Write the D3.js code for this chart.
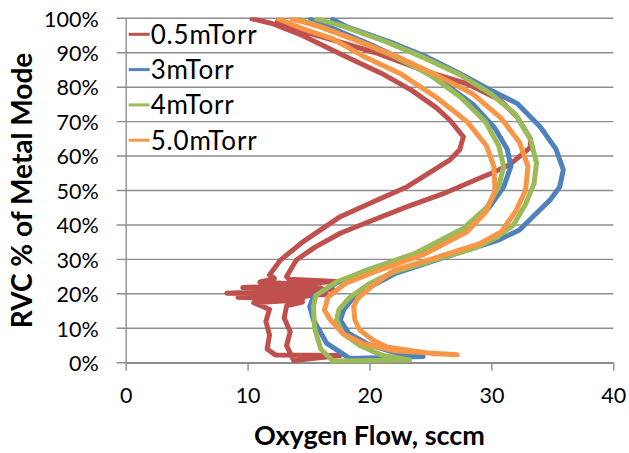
<!DOCTYPE html>
<meta charset="utf-8">
<style>
  body { margin: 0; background: #fff; }
  text { font-family: Lato, 'Open Sans', sans-serif; fill: #000; }
</style>
<svg width="629" height="453"></svg>
<script src="https://cdn.jsdelivr.net/npm/d3@7"></script>
<script>
// series names and colours (legend order)
var seriesNames = ["0.5mTorr", "3mTorr", "4mTorr", "5.0mTorr"];
var seriesColors = ["#C0504D", "#4F81BD", "#9BBB59", "#F79646"];

// [oxygen flow sccm, RVC %], each a loop: outer branch down, inner branch back up
var red = [
  [12.3,99.6],[14.3,96.4],[17,93.7],[20.5,90],[24.7,84.5],[28,81],[30.7,76.3],[32.1,71.4],[33.2,65],[33.2,62.5],
  [31.5,57.5],[30,55],[29.3,54],[26,49],[23.1,45.3],[20,41],[17.6,37.6],[15.5,33.5],[14,29.8],[13.2,25],
  [13.4,24.2],[17.3,23.6],[13,22.6],[16,21.8],[12.8,21],[15.2,19.5],[13.1,18.5],[14.5,17.6],[13.2,16.5],
  [13,13],[13.5,9],[13.2,5],[13.6,2],[13.8,0.6],[17.6,2.1],
  [12.3,2.2],[11.6,4],[11.8,8],[11.5,12],[11.8,15.5],[10.5,17.4],[14.5,18.3],[9.2,19],[16.5,19.8],[8.3,20.2],
  [17,21.3],[9.6,21.8],[15,22.6],[11,23.4],[12.2,24.5],[11.8,25.5],[12.7,29.8],[14.5,35],[17.6,42.4],
  [20.5,47],[23.1,51.1],[26.6,58.9],[27.4,61.8],[27.7,65.6],[26.6,70.4],[25.5,74],[23.5,79],[21,84],
  [18,89],[14.5,95],[12,98.5],[10.2,100]
];
var blue = [
  [16.8,100],[18.1,97.6],[22,92.7],[24.7,88.8],[27.4,84],[29.9,79.2],[32.1,75.3],[34,68.5],[35.3,62],[35.9,56],
  [35.6,51],[34.8,47.2],[33.4,42.4],[32.3,38.5],[30.5,35.5],[28.9,33.7],[25,29.3],[22.2,26],[20.3,22.5],
  [18.7,19],[17.9,15.5],[17.6,12.4],[18.3,8.5],[19.8,5.5],[21.8,3.2],[24.4,1.8],
  [18.4,1.2],[16.5,5.6],[15.4,12.4],[15.1,16.3],[15.4,19.2],[17.2,23],[19.8,26.9],[23.9,31.8],[28,39.5],
  [29.8,45],[31,51],[31.6,57],[31.3,62],[30.3,68],[28.5,75],[26,81.5],[23,87.5],[20,92.5],[17,97],[15,100]
];
var green = [
  [15.5,100],[18,97.5],[21.5,93],[24.5,88.5],[27.5,83.5],[30,78],[32,72],[33.2,65],[33.7,58],[33.5,52],
  [32.8,46],[31.8,40],[30.5,36.5],[28.8,33.5],[25,29.5],[22,26.3],[20,23],[18.4,19],[17.5,15.5],[17.3,12.4],
  [17.8,8.5],[19.2,5],[21,2.2],[23.3,0.8],
  [17,0.5],[16,4],[15.5,10],[15.4,16.3],[15.6,19.5],[17.3,23.5],[19.6,26.5],[23.6,31.5],[27.7,39],[29.6,45],
  [30.6,51],[31,57],[30.6,63],[29.5,70],[27.5,77],[25,83.5],[22,89],[19,93.5],[16,97.5],[14,100]
];
var orange = [
  [13.5,100],[16,97.5],[19,93.5],[22.5,88.5],[25.5,83.5],[28.5,78],[30.8,71],[32.3,64],[33,57],[32.8,50],
  [32,44],[30.8,38],[29,34.5],[25,30],[22,26.8],[20.3,22.5],[19,18.5],[18.7,16.3],[18.8,12.4],[19.2,9.5],
  [20.3,6.5],[21.4,4.6],[25,2.7],[27.2,2.3],
  [22,3.5],[19.5,5.5],[17.8,8.5],[16.8,12.4],[16.3,15.3],[16.6,19],[18,23],[20.5,26.5],[24.5,31.5],[28,38],
  [29.6,44],[30.3,50],[30.2,57],[29.6,63],[28,70],[25.5,77],[22.5,84],[19.5,89],[17,94],[14.5,97],[12.4,100]
];
var seriesData = [red, blue, green, orange];

var xTicks = [0, 10, 20, 30, 40];
var yTicks = [0, 10, 20, 30, 40, 50, 60, 70, 80, 90, 100];

var svg = d3.select("svg"),
    margin = {top: 18.3, right: 15.7, bottom: 90.3, left: 125.7},
    width = +svg.attr("width") - margin.left - margin.right,
    height = +svg.attr("height") - margin.top - margin.bottom,
    g = svg.append("g").attr("transform", "translate(" + margin.left + "," + margin.top + ")");

var x = d3.scaleLinear().domain([0, 40]).range([0, width]);
var y = d3.scaleLinear().domain([0, 100]).range([height, 0]);

// gridlines
g.append("g")
  .selectAll("line")
  .data(yTicks)
  .enter().append("line")
    .attr("x1", -9).attr("x2", width)
    .attr("y1", function(d) { return y(d); })
    .attr("y2", function(d) { return y(d); })
    .attr("stroke", "#8e8e8e")
    .attr("stroke-width", 1.4);

// y axis
var yAxis = g.append("g")
    .call(d3.axisLeft(y).tickValues(yTicks).tickSize(0).tickPadding(27)
      .tickFormat(function(d) { return d + "%"; }));
yAxis.select(".domain").attr("stroke", "#8e8e8e").attr("stroke-width", 1.4);
yAxis.selectAll("text").style("font-size", "21.5px").attr("dy", "0.36em");

// x axis
var xAxis = g.append("g")
    .attr("transform", "translate(0," + height + ")")
    .call(d3.axisBottom(x).tickValues(xTicks).tickSize(8).tickPadding(17).tickSizeOuter(0));
xAxis.select(".domain").attr("stroke", "#8e8e8e").attr("stroke-width", 1.4);
xAxis.selectAll(".tick line").attr("stroke", "#8e8e8e").attr("stroke-width", 1.4);
xAxis.selectAll("text").style("font-size", "21.5px");

svg.append("clipPath").attr("id", "plot")
  .append("rect").attr("x", -2).attr("y", -1).attr("width", width + 4).attr("height", height + 2);

var line = d3.line()
    .x(function(d) { return x(d[0]); })
    .y(function(d) { return y(d[1]); });

g.append("g").attr("clip-path", "url(#plot)")
  .selectAll("path")
  .data(seriesData)
  .enter().append("path")
    .attr("fill", "none")
    .attr("stroke", function(d, i) { return seriesColors[i]; })
    .attr("stroke-width", 5)
    .attr("stroke-linejoin", "round")
    .attr("d", line);

// legend
var legend = g.append("g")
  .selectAll("g")
  .data(seriesNames)
  .enter().append("g")
    .attr("transform", function(d, i) { return "translate(3," + (16 + i * 35.3) + ")"; });

legend.append("line")
    .attr("x1", 0).attr("x2", 21)
    .attr("stroke", function(d, i) { return seriesColors[i]; })
    .attr("stroke-width", 3);

legend.append("text")
    .attr("x", 22)
    .attr("dy", "0.36em")
    .style("font-size", "26px")
    .style("letter-spacing", "0.8px")
    .text(function(d) { return d; });

// axis titles
svg.append("text")
    .attr("x", margin.left + width / 2)
    .attr("y", 445)
    .attr("text-anchor", "middle")
    .style("font-size", "27px")
    .style("font-weight", "bold")
    .text("Oxygen Flow, sccm");

svg.append("text")
    .attr("transform", "translate(32," + (margin.top + height / 2) + ") rotate(-90)")
    .attr("text-anchor", "middle")
    .style("font-size", "28px")
    .style("font-weight", "bold")
    .text("RVC % of Metal Mode");
</script>
